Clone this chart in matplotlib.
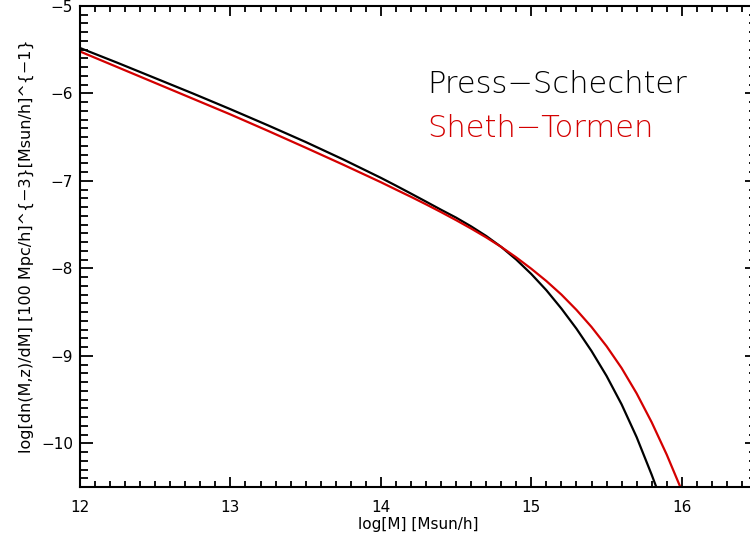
import matplotlib
matplotlib.use("Agg")
import matplotlib.pyplot as plt
from matplotlib.ticker import MultipleLocator, FixedLocator

# log mass values and log mass function
ps_logm = [12.0, 12.25, 12.5, 12.75, 13.0, 13.25, 13.5, 13.75, 14.0, 14.1, 14.2, 14.3, 14.4,
           14.5, 14.6, 14.7, 14.8, 14.9, 15.0, 15.1, 15.2, 15.3, 15.4, 15.5, 15.6, 15.7, 15.8, 15.85]
ps_logn = [-5.48, -5.65, -5.825, -6.0, -6.18, -6.365, -6.555, -6.755, -6.965, -7.054, -7.145, -7.237, -7.33,
           -7.42, -7.52, -7.63, -7.755, -7.90, -8.065, -8.25, -8.46, -8.69, -8.945, -9.23, -9.555, -9.93, -10.36, -10.59]

st_logm = [12.0, 12.25, 12.5, 12.75, 13.0, 13.25, 13.5, 13.75, 14.0, 14.1, 14.2, 14.3, 14.4,
           14.5, 14.6, 14.7, 14.8, 14.9, 15.0, 15.1, 15.2, 15.3, 15.4, 15.5, 15.6, 15.7, 15.8, 15.9, 16.0]
st_logn = [-5.52, -5.70, -5.88, -6.06, -6.24, -6.428, -6.62, -6.815, -7.015, -7.099, -7.182, -7.268, -7.357,
           -7.449, -7.545, -7.646, -7.755, -7.875, -8.005, -8.145, -8.30, -8.475, -8.67, -8.89, -9.14, -9.43, -9.76, -10.13, -10.54]

x_ticks = [12, 13, 14, 15, 16]
y_ticks = [-5, -6, -7, -8, -9, -10]
legend_labels = ["Press\u2212Schechter", "Sheth\u2212Tormen"]

W, H = 750, 538
fig = plt.figure(figsize=(W / 100, H / 100), dpi=100)
ax = fig.add_axes([80 / W, (H - 487) / H, 677 / W, 481 / H])

ax.plot(ps_logm, ps_logn, color="black", lw=1.6, solid_capstyle="butt")
ax.plot(st_logm, st_logn, color="#d40000", lw=1.6, solid_capstyle="butt")

ax.set_xlim(12, 16.5)
ax.set_ylim(-10.5, -5)

ax.xaxis.set_major_locator(FixedLocator(x_ticks))
ax.yaxis.set_major_locator(FixedLocator(y_ticks))
ax.xaxis.set_minor_locator(MultipleLocator(0.1))
ax.yaxis.set_minor_locator(MultipleLocator(0.1))
ax.tick_params(which="both", direction="in", top=True, right=True, width=1.3, labelsize=11)
ax.tick_params(axis="x", which="major", length=7, pad=9)
ax.tick_params(axis="x", which="minor", length=4)
ax.tick_params(axis="y", which="major", length=9, pad=5)
ax.tick_params(axis="y", which="minor", length=5.5)
for s in ax.spines.values():
    s.set_linewidth(1.5)

ax.set_xlabel("log[M] [Msun/h]", fontsize=11, labelpad=2)
ax.set_ylabel("log[dn(M,z)/dM] [100 Mpc/h]^{\u22123}[Msun/h]^{\u22121}", fontsize=11.5, labelpad=5)

ax.text(427, H - 93, legend_labels[0], transform=None, fontsize=22, color="black",
        fontweight="light", ha="left", va="baseline")
ax.text(427, H - 137, legend_labels[1], transform=None, fontsize=22, color="#d40000",
        fontweight="light", ha="left", va="baseline")

fig.savefig("out.png", dpi=100)
